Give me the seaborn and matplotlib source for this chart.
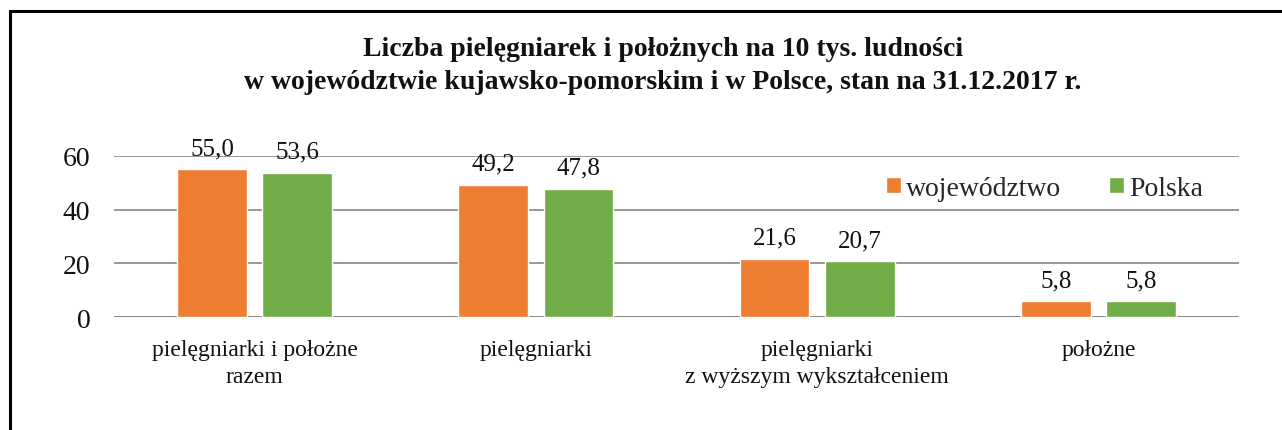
import matplotlib
matplotlib.use("Agg")
import matplotlib.pyplot as plt
from matplotlib.patches import Rectangle
import seaborn as sns
import pandas as pd

categories = ["pielęgniarki i położne\nrazem", "pielęgniarki",
              "pielęgniarki\nz wyższym wykształceniem", "położne"]
wojewodztwo = [55.0, 49.2, 21.6, 5.8]
polska = [53.6, 47.8, 20.7, 5.8]
series = ["województwo", "Polska"]
colors = ["#ED7D31", "#70AD47"]
title = ("Liczba pielęgniarek i położnych na 10 tys. ludności\n"
         "w województwie kujawsko-pomorskim i w Polsce, stan na 31.12.2017 r.")

df = pd.DataFrame({
    "kategoria": categories * 2,
    "seria": [series[0]] * 4 + [series[1]] * 4,
    "wartosc": wojewodztwo + polska,
})

sns.set_theme(style="white")
plt.rcParams["font.family"] = ["Liberation Serif", "DejaVu Serif"]

fig = plt.figure(figsize=(12.82, 4.31), dpi=100)
ax = fig.add_axes([114 / 1282, 1 - 318 / 431, 1125 / 1282, 161 / 431])

sns.barplot(data=df, x="kategoria", y="wartosc", hue="seria", order=categories,
            hue_order=series, palette=colors, width=0.605, gap=0.18,
            ax=ax, saturation=1, errorbar=None, legend=True)

for cont in ax.containers:
    ax.bar_label(cont, labels=[f"{v:.1f}".replace(".", ",") for v in cont.datavalues],
                 padding=7.5, fontsize=18, color="#111111")

ax.set_ylim(0, 60)
ax.set_yticks([0, 20, 40, 60])
ax.set_xlabel("")
ax.set_ylabel("")
ax.yaxis.grid(True, color="#868686", linewidth=1.2)
ax.set_axisbelow(True)
for s in ax.spines.values():
    s.set_visible(False)
ax.axhline(0, color="#868686", linewidth=1.2, zorder=0.5)
ax.tick_params(axis="y", length=0, pad=17, labelsize=20, labelcolor="#111111")
ax.tick_params(axis="x", length=0, pad=16, labelsize=17, labelcolor="#111111")
for lbl in ax.get_xticklabels():
    lbl.set_linespacing(1.35)

handles, labels = ax.get_legend_handles_labels()
ax.legend(handles, labels, loc="center left", bbox_to_anchor=(0.676, 0.80),
          ncol=2, frameon=False, fontsize=20, handlelength=0.55, handleheight=0.55,
          handletextpad=0.2, columnspacing=1.7, borderaxespad=0)

fig.text(0.517, 1 - 66 / 431, title, ha="center", va="center", fontsize=20,
         fontweight="bold", linespacing=1.4, color="#111111")

fig.patches.append(Rectangle((10 / 1282, -0.2), 2.0, 1.2 - 12 / 431,
                             transform=fig.transFigure, fill=False,
                             edgecolor="black", linewidth=2.2, clip_on=False))

fig.savefig("out.png", dpi=100)
